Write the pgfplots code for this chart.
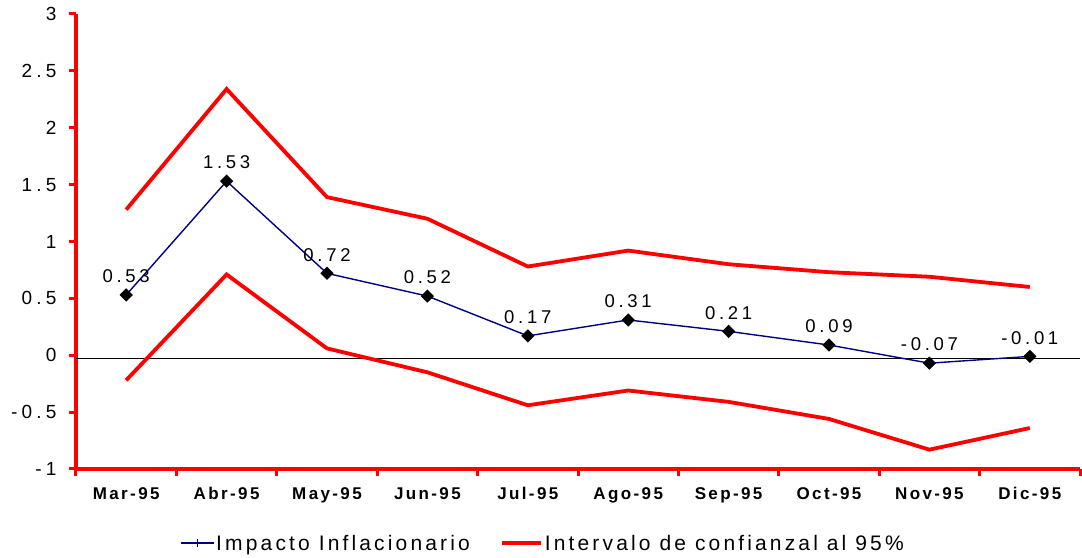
\documentclass[border=0pt]{standalone}
\usepackage{fontspec}
\setmainfont{Liberation Sans}
\newfontfamily\tickfont[LetterSpace=22]{Liberation Sans}
\newfontfamily\dlfont[LetterSpace=20]{Liberation Sans}
\newfontfamily\xfont[LetterSpace=14]{Liberation Sans}
\newfontfamily\legfont[LetterSpace=15]{Liberation Sans}
\usepackage{pgfplots}
\pgfplotsset{compat=1.18}
\usetikzlibrary{calc}
\definecolor{myred}{RGB}{255,0,0}
\definecolor{mynavy}{RGB}{0,0,128}
\begin{document}
\begin{tikzpicture}
\begin{axis}[
  scale only axis, width=1004pt, height=455pt,
  xmin=-0.5, xmax=9.5, ymin=-1, ymax=3,
  axis x line*=bottom, axis y line*=left,
  axis line style={myred, line width=3.8pt, -},
  xtick={0,...,9},
  xticklabels={Mar-95,Abr-95,May-95,Jun-95,Jul-95,Ago-95,Sep-95,Oct-95,Nov-95,Dic-95},
  major x tick style={draw=none},
  minor xtick={-0.5,0.5,...,9.5},
  minor x tick style={myred, line width=3pt},
  minor tick length=7pt,
  ytick={-1,-0.5,...,3},
  y tick style={myred, line width=3pt},
  major tick length=7pt,
  tick align=outside,
  /pgf/number format/assume math mode=true,
  yticklabel style={font=\fontsize{19}{22}\selectfont\tickfont, xshift=-9pt},
  xticklabel style={font=\fontsize{17}{20}\selectfont\xfont\bfseries, yshift=-8pt},
  legend columns=2,
  legend style={draw=none, fill=none, at={(0.465,-0.163)}, anchor=center,
    font=\fontsize{21}{25}\selectfont\legfont,
    /tikz/every even column/.append style={column sep=28pt}},
  clip=false,
]
\addplot[black, line width=1.5pt, forget plot] coordinates {(-0.5,-0.03) (9.5,-0.03)};
\addplot[mynavy, line width=1.4pt, mark=square*, mark size=4pt,
  mark options={black, fill=black, rotate=45},
  point meta=explicit symbolic,
  nodes near coords={\fontsize{18.5}{21}\selectfont\dlfont\pgfplotspointmeta},
  every node near coord/.append style={black, anchor=south, yshift=8pt},
  legend image code/.code={
    \draw[mynavy, line width=1.3pt] (0pt,0pt) -- (33pt,0pt);
    \draw[mynavy, line width=0.8pt] (16.5pt,-4pt) -- (16.5pt,4pt);}
] coordinates {
(0,0.53) [0.53]
(1,1.53) [1.53]
(2,0.72) [0.72]
(3,0.52) [0.52]
(4,0.17) [0.17]
(5,0.31) [0.31]
(6,0.21) [0.21]
(7,0.09) [0.09]
(8,-0.07) [-0.07]
(9,-0.01) [-0.01]
};
\addlegendentry{Impacto Inflacionario}
\addplot[myred, line width=3.8pt, line join=miter,
  legend image code/.code={\draw[myred, line width=4pt] (0pt,0pt) -- (39pt,0pt);}
] coordinates {
(0,1.28) (1,2.34) (2,1.39) (3,1.20) (4,0.78) (5,0.92) (6,0.80) (7,0.73) (8,0.69) (9,0.60)
};
\addlegendentry{Intervalo de confianzal al 95\%}
\addplot[myred, line width=3.8pt, line join=miter, forget plot] coordinates {
(0,-0.22) (1,0.71) (2,0.06) (3,-0.15) (4,-0.44) (5,-0.31) (6,-0.41) (7,-0.56) (8,-0.83) (9,-0.64)
};
\end{axis}
\pgfresetboundingbox
\path ($(current axis.south west)+(-76pt,-89pt)$) rectangle ($(current axis.north east)+(2pt,14pt)$);
\end{tikzpicture}
\end{document}
